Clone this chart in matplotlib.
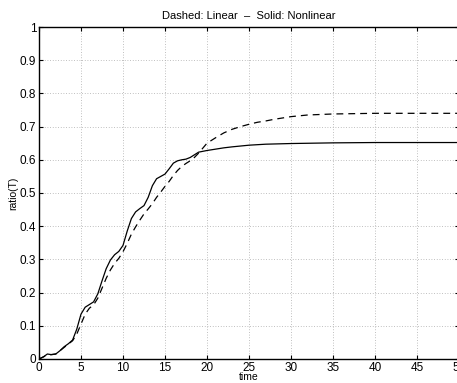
import numpy as np
import matplotlib.pyplot as plt

plt.rcParams['font.family'] = ['Liberation Sans', 'DejaVu Sans']

# valores
t_nl = [0, 0.5, 1, 1.5, 2, 2.5, 3, 3.5, 4, 4.5, 5, 5.5, 6, 6.5, 7, 7.5, 8, 8.5,
        9, 9.5, 10, 10.5, 11, 11.5, 12, 12.5, 13, 13.5, 14, 14.5, 15, 15.5, 16,
        16.5, 17, 17.5, 18, 18.5, 19, 20, 21, 22, 23, 25, 27, 30, 35, 40, 45, 50]
r_nl = [0, 0.006, 0.015, 0.013, 0.015, 0.025, 0.037, 0.046, 0.057, 0.09, 0.135,
        0.156, 0.164, 0.172, 0.196, 0.235, 0.272, 0.298, 0.314, 0.324, 0.342,
        0.385, 0.423, 0.443, 0.453, 0.462, 0.487, 0.522, 0.543, 0.55, 0.557,
        0.573, 0.59, 0.597, 0.6, 0.602, 0.607, 0.615, 0.623, 0.628, 0.632,
        0.636, 0.639, 0.644, 0.647, 0.649, 0.651, 0.652, 0.652, 0.652]

t_lin = [0, 1, 2, 3, 4, 4.5, 5, 5.5, 6, 6.5, 7, 7.5, 8, 8.5, 9, 9.5, 10, 10.5,
         11, 11.5, 12, 12.5, 13, 13.5, 14, 14.5, 15, 15.5, 16, 16.5, 17, 17.5,
         18, 18.5, 19, 19.5, 20, 21, 22, 23, 24, 25, 26, 27, 28, 30, 32, 35,
         40, 45, 50]
r_lin = [0, 0.012, 0.015, 0.035, 0.055, 0.075, 0.105, 0.135, 0.153, 0.163,
         0.183, 0.213, 0.243, 0.268, 0.288, 0.303, 0.323, 0.348, 0.376, 0.398,
         0.418, 0.437, 0.452, 0.468, 0.487, 0.503, 0.52, 0.535, 0.553, 0.568,
         0.58, 0.589, 0.597, 0.607, 0.62, 0.635, 0.65, 0.666, 0.681, 0.692,
         0.7, 0.707, 0.713, 0.717, 0.722, 0.73, 0.735, 0.738, 0.74, 0.74, 0.74]

fig = plt.figure(figsize=(4.57, 3.83), dpi=100)
ax = fig.add_axes([0.0853, 0.0627, 0.9191, 0.8668])

ax.plot(t_lin, r_lin, 'k--', lw=0.9, dashes=(5.5, 4))
ax.plot(t_nl, r_nl, 'k-', lw=0.9)

ax.set_xlim(0, 50)
ax.set_ylim(0, 1)
ax.set_xticks(np.arange(0, 51, 5))
ax.set_yticks(np.arange(0, 1.01, 0.1))
ax.set_yticklabels(['0', '0.1', '0.2', '0.3', '0.4', '0.5', '0.6', '0.7',
                    '0.8', '0.9', '1'])
ax.grid(True, color='#aaaaaa', linestyle=(0, (1, 2.2)), lw=0.6)
ax.tick_params(direction='in', top=True, right=True, labelsize=8.5,
               length=3, pad=2)
for s in ax.spines.values():
    s.set_linewidth(1.0)

ax.set_title('Dashed: Linear  \u2013  Solid: Nonlinear', fontsize=8, pad=6)
ax.set_xlabel('time', fontsize=7.5, labelpad=-1)
ax.set_ylabel('ratio(T)', fontsize=7.5, labelpad=1)

fig.savefig('out.png', dpi=100)
